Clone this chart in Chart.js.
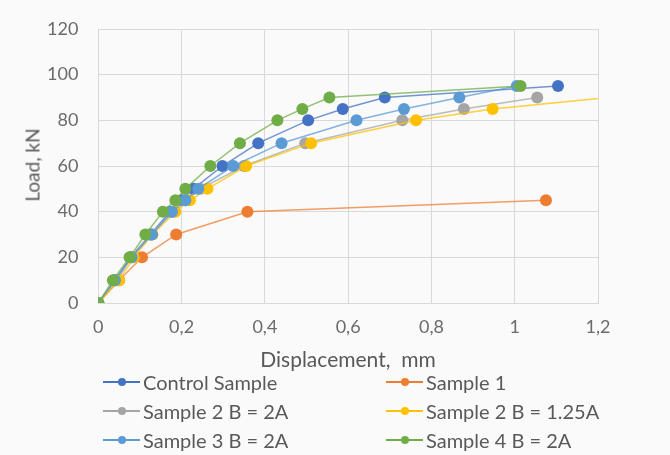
<!DOCTYPE html>
<html>
<head>
<meta charset="utf-8">
<script src="https://cdn.jsdelivr.net/npm/chart.js@4.4.1/dist/chart.umd.min.js"></script>
<style>
    body { margin: 0; background: #fafafa; font-family: Lato, sans-serif; }
    #wrap { position: relative; width: 670px; height: 455px; }
    .axisTitle { position: absolute; color: #595959; white-space: pre; }
    #yTitle { left: 32px; top: 165px; font-size: 19px; transform: translate(-50%, -50%) rotate(-90deg); }
    #xTitle { left: 348px; top: 358px; font-size: 21px; transform: translate(-50%, -50%); }
    .legItem { position: absolute; color: #595959; font-size: 20px; height: 24px; line-height: 24px; white-space: pre; }
    .legItem .sym { position: absolute; left: 0; top: 11px; width: 37px; height: 1.5px; }
    .legItem .dot { position: absolute; left: 14.5px; top: -3.25px; width: 8px; height: 8px; border-radius: 50%; }
    .legItem .txt { position: absolute; left: 40px; top: 0; }
</style>
</head>
<body>
<div id="wrap">
    <canvas id="loadChart" width="670" height="455"></canvas>
    <div class="axisTitle" id="yTitle">Load, kN</div>
    <div class="axisTitle" id="xTitle">Displacement,  mm</div>
    <div id="legend"></div>
</div>
<script>
// === data ===
var seriesNames = ["Control Sample", "Sample 1", "Sample 2 B = 2A", "Sample 2 B = 1.25A", "Sample 3 B = 2A", "Sample 4 B = 2A"];
var seriesColors = ["#4472C4", "#ED7D31", "#A5A5A5", "#FFC000", "#5B9BD5", "#70AD47"];

var controlX = [0, 0.04, 0.078, 0.125, 0.172, 0.2, 0.228, 0.298, 0.384, 0.504, 0.587, 0.688, 1.104];
var controlY = [0, 10, 20, 30, 40, 45, 50, 60, 70, 80, 85, 90, 95];

var sample1X = [0, 0.05, 0.105, 0.187, 0.358, 1.075];
var sample1Y = [0, 10, 20, 30, 40, 45];

var sample2aX = [0, 0.045, 0.08, 0.125, 0.18, 0.21, 0.245, 0.35, 0.497, 0.73, 0.878, 1.054];
var sample2aY = [0, 10, 20, 30, 40, 45, 50, 60, 70, 80, 85, 90];

var sample2bX = [0, 0.05, 0.085, 0.13, 0.185, 0.22, 0.262, 0.355, 0.511, 0.763, 0.947, 1.5];
var sample2bY = [0, 10, 20, 30, 40, 45, 50, 60, 70, 80, 85, 95];

var sample3X = [0, 0.04, 0.08, 0.129, 0.177, 0.209, 0.24, 0.324, 0.44, 0.62, 0.734, 0.867, 1.005];
var sample3Y = [0, 10, 20, 30, 40, 45, 50, 60, 70, 80, 85, 90, 95];

var sample4X = [0, 0.035, 0.075, 0.113, 0.155, 0.185, 0.209, 0.269, 0.34, 0.43, 0.49, 0.555, 1.014];
var sample4Y = [0, 10, 20, 30, 40, 45, 50, 60, 70, 80, 85, 90, 95];

var xTickLabels = ["0", "0,2", "0,4", "0,6", "0,8", "1", "1,2"];
var yTickLabels = ["0", "20", "40", "60", "80", "100", "120"];

var seriesX = [controlX, sample1X, sample2aX, sample2bX, sample3X, sample4X];
var seriesY = [controlY, sample1Y, sample2aY, sample2bY, sample3Y, sample4Y];

function toPoints(xs, ys) {
    return xs.map(function(x, i) { return { x: x, y: ys[i] }; });
}

function hexAlpha(hex, a) {
    var n = parseInt(hex.slice(1), 16);
    return 'rgba(' + (n >> 16) + ',' + ((n >> 8) & 255) + ',' + (n & 255) + ',' + a + ')';
}

var datasets = seriesNames.map(function(name, i) {
    return {
        label: name,
        data: toPoints(seriesX[i], seriesY[i]),
        borderColor: hexAlpha(seriesColors[i], 0.75),
        backgroundColor: seriesColors[i],
        pointBackgroundColor: seriesColors[i],
        pointBorderColor: seriesColors[i],
        pointRadius: 6,
        pointBorderWidth: 0,
        borderWidth: 1.5,
        tension: 0,
        showLine: true,
        order: seriesNames.length - i
    };
});

var gridColor = '#d9d9d9';
var tickFont = { family: 'Lato', size: 18, lineHeight: 1 };

var ctx = document.getElementById('loadChart').getContext('2d');
var loadChart = new Chart(ctx, {
    type: 'scatter',
    data: { datasets: datasets },
    options: {
        responsive: false,
        animation: false,
        layout: { padding: { left: 27, right: 72, top: 6, bottom: 104 } },
        plugins: {
            legend: { display: false },
            tooltip: { enabled: false }
        },
        scales: {
            x: {
                type: 'linear',
                min: 0,
                max: 1.2,
                ticks: {
                    stepSize: 0.2,
                    color: '#6b6b6b',
                    font: tickFont,
                    padding: 15,
                    callback: function(v) { return xTickLabels[Math.round(v / 0.2)]; }
                },
                grid: { color: gridColor, drawTicks: false },
                border: { color: gridColor }
            },
            y: {
                min: 0,
                max: 120,
                ticks: {
                    stepSize: 20,
                    color: '#6b6b6b',
                    font: tickFont,
                    padding: 20,
                    callback: function(v) { return yTickLabels[Math.round(v / 20)]; }
                },
                grid: { color: gridColor, drawTicks: false },
                border: { color: gridColor }
            }
        }
    }
});

// === legend, two columns like the original ===
var legCols = [103, 386];
var legRows = [382, 411, 440];
var legend = document.getElementById('legend');
seriesNames.forEach(function(name, i) {
    var item = document.createElement('div');
    item.className = 'legItem';
    item.style.left = legCols[i % 2] + 'px';
    item.style.top = (legRows[Math.floor(i / 2)] - 12) + 'px';
    item.innerHTML = '<span class="sym" style="background:' + seriesColors[i] + '"><span class="dot" style="background:' + seriesColors[i] + '"></span></span><span class="txt">' + name + '</span>';
    legend.appendChild(item);
});
</script>
</body>
</html>
